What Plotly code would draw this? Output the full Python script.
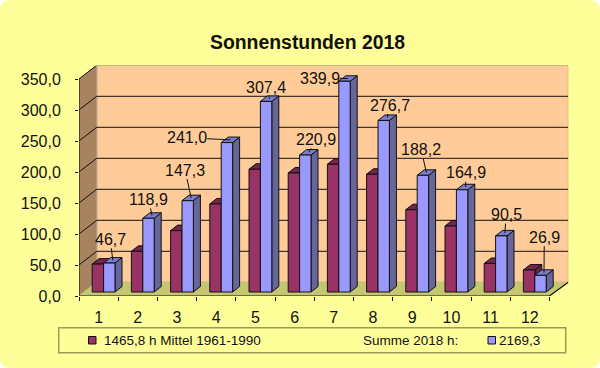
import plotly.graph_objects as go

months = list(range(1, 13))
mittel_1961_1990 = [45, 65.6, 99, 142, 198, 192, 206, 190, 132.7, 106.5, 46, 35.5]
sonne_2018 = [46.7, 118.9, 147.3, 241.0, 307.4, 220.9, 339.9, 276.7, 188.2, 164.9, 90.5, 26.9]
y_ticks = [0, 50, 100, 150, 200, 250, 300, 350]

# label offsets in px from the top of each blue bar
lab_dx = [-2.5, -3.3, -6.2, -43.7, -3.6, 7, -28.5, 3.1, -5.1, 0.4, 1.5, 0.3]
lab_dy = [-21, -16.2, -27.9, -2.1, -11, -13, -0.5, -12.7, -22.6, -14.3, -18.5, -35.3]

W, H = 600, 368
L, R, T, B = 79.0, 568.3, 65.7, 296.0
CAT = 39.2                     # px per category
PXU = 217 / 350                # px per value unit
X0, X1 = 0.5, 0.5 + (R - L) / CAT
Y1 = (B - T) / PXU
DX, DY = 17.7 / CAT, 13.7 / PXU          # chart depth
BW, BDX, BDY = 11.4 / CAT, 7 / CAT, 5.5 / PXU   # bar width and depth
OX, OY = 5 / CAT, 4 / PXU      # bar foot offset from front plane

FONT = "Liberation Sans"
INK = "#111111"
YEL = "#FFFF99"
OLIVE = "#9C9C5A"


def px(x):
    return x / W


def py(y):
    return 1 - y / H


def poly(xs, ys, color, name, line="#111111", width=1):
    return go.Scatter(x=xs, y=ys, mode="lines", fill="toself", fillcolor=color,
                      line=dict(color=line, width=width), name=name,
                      hoverinfo="skip", showlegend=False, xaxis="x", yaxis="y")


fig = go.Figure()

# walls and floor
XE = 12.5
fig.add_trace(poly([X0 + DX, X1, X1, X0 + DX, X0 + DX], [DY, DY, 350 + DY, 350 + DY, DY],
                   "#FFCC99", "Rueckwand", line="#A89A80"))
fig.add_trace(poly([X0, X0 + DX, X0 + DX, X0, X0], [0, DY, 350 + DY, 350, 0],
                   "#A8835F", "Seitenwand", line="#A8A090"))
fig.add_trace(poly([X0, XE, X1, X0 + DX, X0], [0, 0, DY, DY, 0], "#C6C672", "Boden", line="#C6C672"))

# gridlines: on the back wall and across the side wall
gx, gy = [], []
for v in y_ticks[1:]:
    gx += [X0, X0 + DX, X1, None]
    gy += [v, v + DY, v + DY, None]
fig.add_trace(go.Scatter(x=gx, y=gy, mode="lines", line=dict(color="#111111", width=1),
                         hoverinfo="skip", showlegend=False, name="Gitter"))
# front axis lines
fig.add_trace(go.Scatter(x=[X0, X0, None, X0, XE, X1], y=[350, 0, None, 0, 0, DY], mode="lines",
                         line=dict(color="#111111", width=1.2), hoverinfo="skip",
                         showlegend=False, name="Achsen"))


def faces(values, left_shift):
    sx, sy, tx, ty = [], [], [], []
    for m, v in zip(months, values):
        xl = m + OX + left_shift
        xr = xl + BW
        top = OY + v
        sx += [xr, xr + BDX, xr + BDX, xr, xr, None]
        sy += [OY, OY + BDY, top + BDY, top, OY, None]
        tx += [xl, xr, xr + BDX, xl + BDX, xl, None]
        ty += [top, top, top + BDY, top + BDY, top, None]
    return sx, sy, tx, ty


sx, sy, tx, ty = faces(mittel_1961_1990, -BW)
fig.add_trace(poly(sx, sy, "#662244", "Mittel Seite"))
fig.add_trace(poly(tx, ty, "#73264D", "Mittel Deckel"))
sx, sy, tx, ty = faces(sonne_2018, 0)
fig.add_trace(poly(sx, sy, "#666699", "2018 Seite"))
fig.add_trace(poly(tx, ty, "#7C7CCF", "2018 Deckel"))

# front faces of the bars, on an overlaid axis pair so they paint on top
fig.add_trace(go.Bar(x=[m + OX - BW / 2 for m in months], y=mittel_1961_1990, base=OY, width=BW,
                     marker=dict(color="#993366", line=dict(color="#111111", width=1)),
                     name="1465,8 h Mittel 1961-1990", xaxis="x2", yaxis="y2", showlegend=False))
fig.add_trace(go.Bar(x=[m + OX + BW / 2 for m in months], y=sonne_2018, base=OY, width=BW,
                     marker=dict(color="#9999FF", line=dict(color="#111111", width=1)),
                     name="2169,3", xaxis="x2", yaxis="y2", showlegend=False))

# data labels with leader lines
ann = []
for m, v, dx, dy in zip(months, sonne_2018, lab_dx, lab_dy):
    ann.append(dict(x=m + OX + BW / 2 + BDX / 2, y=OY + v + BDY / 2, xref="x", yref="y",
                    text=f"{v:.1f}".replace(".", ","), showarrow=True, arrowhead=0,
                    arrowwidth=1, arrowcolor="#111111", ax=dx, ay=dy, standoff=0,
                    borderpad=0, font=dict(family=FONT, size=16, color=INK)))

# title and legend
ann.append(dict(x=px(307.5), y=py(41.5), xref="paper", yref="paper", showarrow=False,
                xanchor="center", yanchor="middle",
                text="<b>Sonnenstunden 2018</b>", font=dict(family=FONT, size=19.4, color=INK)))
for text, xp in [("1465,8 h Mittel 1961-1990", 103.3), ("Summe 2018 h:", 362), ("2169,3", 498.3)]:
    ann.append(dict(x=px(xp), y=py(340), xref="paper", yref="paper", showarrow=False,
                    xanchor="left", yanchor="middle", borderpad=0, text=text,
                    font=dict(family=FONT, size=13.5, color=INK)))

r = 11
bg = (f"M {px(r)},{py(0)} L {px(W - r)},{py(0)} Q {px(W)},{py(0)} {px(W)},{py(r)} "
      f"L {px(W)},{py(H - r)} Q {px(W)},{py(H)} {px(W - r)},{py(H)} "
      f"L {px(r)},{py(H)} Q {px(0)},{py(H)} {px(0)},{py(H - r)} "
      f"L {px(0)},{py(r)} Q {px(0)},{py(0)} {px(r)},{py(0)} Z")
shapes = [
    dict(type="path", path=bg, xref="paper", yref="paper", fillcolor=YEL, line=dict(width=0), layer="below"),
    dict(type="rect", xref="paper", yref="paper", x0=px(58.7), x1=px(565.7), y0=py(327.7), y1=py(352.7),
         fillcolor=YEL, line=dict(color=OLIVE, width=1.5), layer="below"),
    dict(type="rect", xref="paper", yref="paper", x0=px(88.5), x1=px(96), y0=py(336.5), y1=py(344),
         fillcolor="#993366", line=dict(color="#111111", width=1), layer="below"),
    dict(type="rect", xref="paper", yref="paper", x0=px(488), x1=px(495.5), y0=py(336.5), y1=py(344),
         fillcolor="#9999FF", line=dict(color="#111111", width=1), layer="below"),
]

fig.update_layout(
    width=W, height=H, margin=dict(l=0, r=0, t=0, b=0, pad=0, autoexpand=False), autosize=False,
    paper_bgcolor="white", plot_bgcolor="rgba(0,0,0,0)", separators=",.",
    barmode="overlay", showlegend=False, annotations=ann, shapes=shapes,
    font=dict(family=FONT, size=16, color=INK),
    xaxis=dict(domain=[px(L), px(R)], range=[X0, X1], anchor="y", tickmode="array", tickvals=months,
               ticktext=[str(m) for m in months], ticks="", showgrid=False, zeroline=False, showline=False,
               ticklabelstandoff=10, tickfont=dict(family=FONT, size=16, color=INK), automargin=False,
               minor=dict(ticks="outside", tickmode="array", tickvals=[0.5 + i for i in range(13)],
                          ticklen=4, tickcolor="#111111", tickwidth=1, showgrid=False)),
    yaxis=dict(domain=[py(B), py(T)], range=[0, Y1], anchor="x", tickmode="array", tickvals=y_ticks,
               ticktext=[f"{v:.1f}".replace(".", ",") for v in y_ticks], ticks="outside", ticklen=3,
               tickcolor="#111111", tickwidth=1, showgrid=False, zeroline=False, showline=False,
               ticklabelstandoff=11, tickfont=dict(family=FONT, size=16, color=INK), automargin=False),
    xaxis2=dict(domain=[px(L), px(R)], range=[X0, X1], overlaying="x", anchor="y2", visible=False),
    yaxis2=dict(domain=[py(B), py(T)], range=[0, Y1], overlaying="y", anchor="x2", visible=False),
)

fig.write_html("out.html", config=dict(displayModeBar=False),
               post_script="document.body.style.margin='0';document.documentElement.style.overflow='hidden';")
